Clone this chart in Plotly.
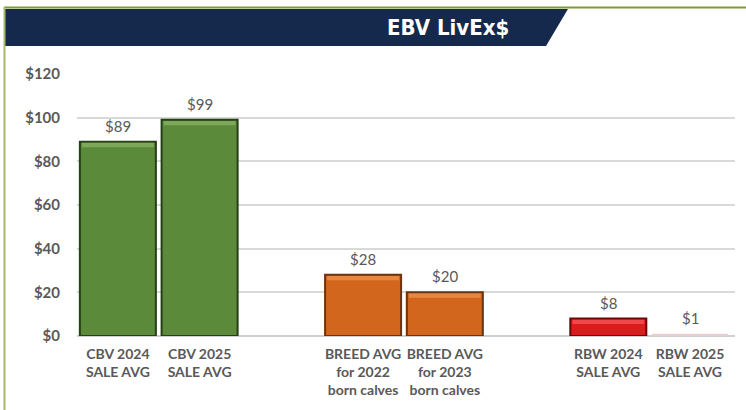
import plotly.graph_objects as go

# ---- data ----
labels = [
    "CBV 2024<br>SALE AVG",
    "CBV 2025<br>SALE AVG",
    "BREED AVG<br>for 2022<br>born calves",
    "BREED AVG<br>for 2023<br>born calves",
    "RBW 2024<br>SALE AVG",
    "RBW 2025<br>SALE AVG",
]
values = [89, 99, 28, 20, 8, 1]
groups = [0, 0, 1, 1, 2, 2]
fill_colors = ["#5B8A3B", "#5B8A3B", "#D2661C", "#D2661C", "#D91C1C", "#E8CFCF"]
top_colors = ["#7DA858", "#7DA858", "#E8883E", "#E8883E", "#F04848", "#EBD8D8"]
edge_colors = ["#263F16", "#263F16", "#6E330C", "#6E330C", "#6A0808", "#E0C8C8"]
y_ticks = [0, 20, 40, 60, 80, 100, 120]

# slot positions: one empty slot between groups
xpos = [i + g for i, g in enumerate(groups)]

W, H = 746, 410
def px(x):
    return x / W
def py(y):
    return 1 - y / H

fig = go.Figure()
fig.add_trace(go.Bar(
    x=xpos, y=values, width=0.93,
    marker=dict(color=fill_colors,
                line=dict(color=edge_colors, width=[2 if v >= 5 else 0 for v in values])),
    hoverinfo="skip",
))
# lighter bevel strip along the top of each bar
strip = [2.0 if v >= 5 else 0 for v in values]
fig.add_trace(go.Bar(
    x=xpos, y=strip, base=[v - s - 0.5 for v, s in zip(values, strip)], width=0.88,
    marker=dict(color=top_colors, line=dict(width=0)),
    hoverinfo="skip",
))

for xv, v in zip(xpos, values):
    fig.add_annotation(x=xv, y=v, xref="x", yref="y", text=f"${v}",
                       showarrow=False, yanchor="bottom", yshift=5,
                       font=dict(family="Lato", size=15, color="#595959"))

# banner, border lines
shapes = [
    dict(type="path", xref="paper", yref="paper",
         path=f"M {px(5)},{py(9)} L {px(568)},{py(9)} L {px(546)},{py(46)} L {px(5)},{py(46)} Z",
         fillcolor="#14294B", line=dict(width=0), layer="below"),
    dict(type="line", xref="paper", yref="paper", x0=px(4), x1=1, y0=py(7.5), y1=py(7.5),
         line=dict(color="#7E9A2E", width=2)),
    dict(type="line", xref="paper", yref="paper", x0=px(4.5), x1=px(4.5), y0=py(7), y1=0,
         line=dict(color="#A8B86A", width=2)),
]

fig.add_annotation(x=px(448), y=py(27), xref="paper", yref="paper",
                   text="<b>EBV LivEx$</b>", showarrow=False,
                   xanchor="center", yanchor="middle",
                   font=dict(family="DejaVu Sans Condensed", size=22, color="white"))

fig.update_layout(
    width=W, height=H,
    margin=dict(l=0, r=0, t=0, b=0, autoexpand=False),
    paper_bgcolor="white", plot_bgcolor="white",
    showlegend=False, barmode="overlay",
    shapes=shapes,
    xaxis=dict(domain=[px(77), px(735)], range=[-0.5, 7.55],
               tickmode="array", tickvals=xpos, ticktext=[f"<b>{l}</b>" for l in labels],
               tickfont=dict(family="Lato", size=14, color="#595959"),
               showgrid=False, zeroline=False, showline=False, ticks="",
               ticklabelstandoff=8),
    yaxis=dict(domain=[py(336), py(74)], range=[0, 120],
               tickmode="array", tickvals=y_ticks, ticktext=[f"<b>${t}</b>" for t in y_ticks],
               tickfont=dict(family="Lato", size=15, color="#595959"),
               showgrid=True, gridcolor="#D9D9D9", gridwidth=1.5,
               zeroline=True, zerolinecolor="#D0D0D0", zerolinewidth=1.5,
               showline=False, ticks="", ticklabelstandoff=16),
)

fig.write_html("out.html", config={"displayModeBar": False},
               post_script="document.body.style.margin='0';")
